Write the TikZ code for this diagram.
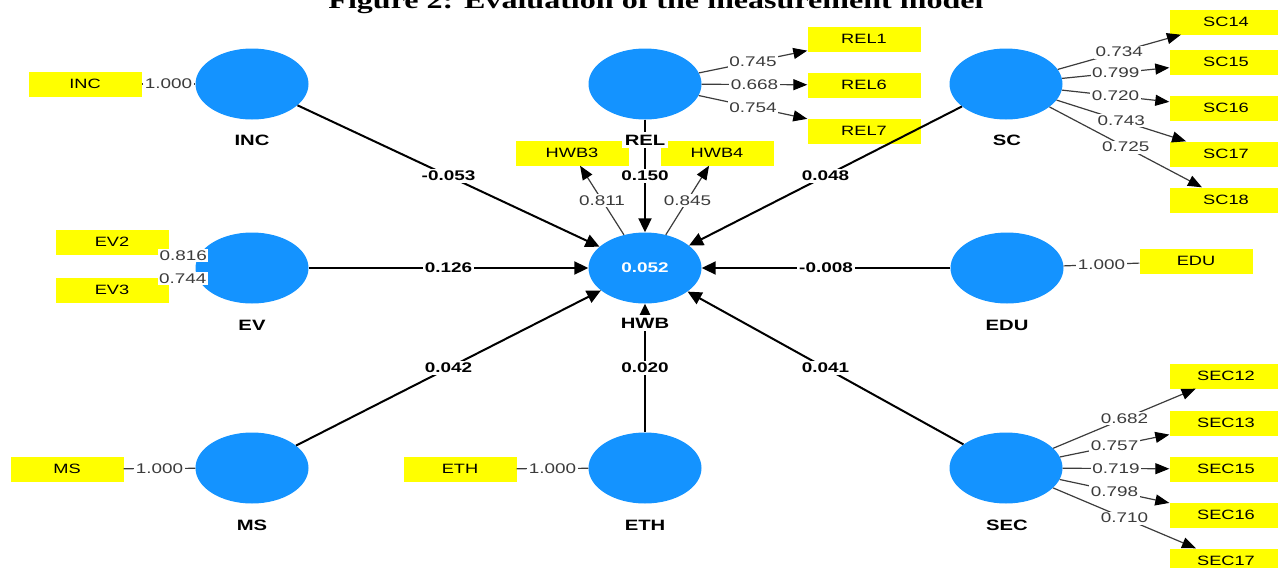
\documentclass[tikz,border=0pt]{standalone}
\usepackage{fontspec}
\setmainfont{Liberation Sans}[FakeStretch=1.35]
\newfontfamily\titlefont{Liberation Serif}[FakeStretch=1.35]
\usetikzlibrary{arrows.meta,shapes.geometric}
\definecolor{lvblue}{HTML}{1493FF}
\definecolor{indyellow}{HTML}{FFFF00}
\definecolor{loadgray}{HTML}{3C3C3C}
\newcommand{\valfont}{\fontsize{14}{16}\selectfont}
\newcommand{\indfont}{\fontsize{13.5}{15}\selectfont}
\newcommand{\namefont}{\fontsize{15}{17}\selectfont}
\tikzset{
  lv/.style={ellipse, fill=lvblue, minimum width=113pt, minimum height=71pt, inner sep=0pt},
  ind/.style={rectangle, fill=indyellow, minimum width=113pt, minimum height=25pt, inner sep=0pt, font=\indfont},
  struct/.style={-{Triangle[length=14pt, width=13pt]}, line width=2pt, black},
  load/.style={-{Triangle[length=14pt, width=11pt, color=black]}, line width=1.2pt, loadgray},
  single/.style={line width=1.2pt, loadgray},
}

\begin{document}
\begin{tikzpicture}[x=1pt, y=-1pt, font=\valfont,
  lvname/.style={fill=white, inner sep=2.5pt, font=\namefont\bfseries},
  coef/.style={fill=white, inner sep=2pt, font=\valfont\bfseries},
  wt/.style={fill=white, inner sep=1.5pt, text=loadgray, font=\valfont}]
  \useasboundingbox (0,0) rectangle (1278,568);
  % latent variables
  \node[lv] (inc) at (252,84) {};
  \node[lv] (rel) at (645,84) {};
  \node[lv] (sc) at (1006,84) {};
  \node[lv] (ev) at (252,268) {};
  \node[lv, text=white, font=\valfont\bfseries] (hwb) at (645,268) {0.052};
  \node[lv] (edu) at (1007,268) {};
  \node[lv] (ms) at (252,468) {};
  \node[lv] (eth) at (645,468) {};
  \node[lv] (sec) at (1006,468) {};
  % indicators
  \node[ind] (incI) at (85,84) {INC};
  \node[ind] (ev2) at (112,242) {EV2};
  \node[ind] (ev3) at (112,290) {EV3};
  \node[ind] (msI) at (67,469) {MS};
  \node[ind] (ethI) at (460,469) {ETH};
  \node[ind] (eduI) at (1196,261) {EDU};
  \node[ind] (rel1) at (864,39) {REL1};
  \node[ind] (rel6) at (864,85) {REL6};
  \node[ind] (rel7) at (864,131) {REL7};
  \node[ind] (hwb3) at (572,153) {HWB3};
  \node[ind] (hwb4) at (717,153) {HWB4};
  \node[ind] (sc14) at (1226,22) {SC14};
  \node[ind] (sc15) at (1226,62) {SC15};
  \node[ind] (sc16) at (1226,108) {SC16};
  \node[ind] (sc17) at (1226,154) {SC17};
  \node[ind] (sc18) at (1226,200) {SC18};
  \node[ind] (sec12) at (1226,376) {SEC12};
  \node[ind] (sec13) at (1226,423) {SEC13};
  \node[ind] (sec15) at (1226,469) {SEC15};
  \node[ind] (sec16) at (1226,515) {SEC16};
  \node[ind] (sec17) at (1226,561) {SEC17};
  % structural paths
  \draw[struct] (inc) -- node[coef] {-0.053} (hwb);
  \draw[struct] (rel) -- node[coef] {0.150} (hwb);
  \draw[struct] (sc) -- node[coef] {0.048} (hwb);
  \draw[struct] (ev) -- node[coef] {0.126} (hwb);
  \draw[struct] (edu) -- node[coef] {-0.008} (hwb);
  \draw[struct] (ms) -- node[coef] {0.042} (hwb);
  \draw[struct] (eth) -- node[coef] {0.020} (hwb);
  \draw[struct] (sec) -- node[coef] {0.041} (hwb);
  % loadings
  \draw[load] (rel) -- node[wt] {0.745} (rel1);
  \draw[load] (rel) -- node[wt] {0.668} (rel6);
  \draw[load] (rel) -- node[wt] {0.754} (rel7);
  \draw[load] (hwb) -- node[wt] {0.811} (hwb3);
  \draw[load] (hwb) -- node[wt] {0.845} (hwb4);
  \draw[load] (sc) -- node[wt] {0.734} (sc14);
  \draw[load] (sc) -- node[wt] {0.799} (sc15);
  \draw[load] (sc) -- node[wt] {0.720} (sc16);
  \draw[load] (sc) -- node[wt] {0.743} (sc17);
  \draw[load] (sc) -- node[wt] {0.725} (sc18);
  \draw[load] (sec) -- node[wt] {0.682} (sec12);
  \draw[load] (sec) -- node[wt] {0.757} (sec13);
  \draw[load] (sec) -- node[wt] {0.719} (sec15);
  \draw[load] (sec) -- node[wt] {0.798} (sec16);
  \draw[load] (sec) -- node[wt] {0.710} (sec17);
  \draw[single] (incI) -- node[wt] {1.000} (inc);
  \draw[single] (ev2) -- node[wt] {0.816} (ev);
  \draw[single] (ev3) -- node[wt] {0.744} (ev);
  \draw[single] (msI) -- node[wt] {1.000} (ms);
  \draw[single] (ethI) -- node[wt] {1.000} (eth);
  \draw[single] (edu) -- node[wt] {1.000} (eduI);
  % names under the circles
  \node[lvname] (incN) at (252,140) {INC};
  \node[lvname] (relN) at (645,140) {REL};
  \node[lvname] (scN) at (1007,140) {SC};
  \node[lvname] (evN) at (252,325) {EV};
  \node[lvname] (hwbN) at (645,323) {HWB};
  \node[lvname] (eduN) at (1007,325) {EDU};
  \node[lvname] (msN) at (252,525) {MS};
  \node[lvname] (ethN) at (645,525) {ETH};
  \node[lvname] (secN) at (1007,525) {SEC};
  \node[anchor=base, inner sep=0pt, font=\titlefont\bfseries\fontsize{23.75}{27}\selectfont] (title) at (656,8) {Figure 2: Evaluation of the measurement model};
\end{tikzpicture}
\end{document}
